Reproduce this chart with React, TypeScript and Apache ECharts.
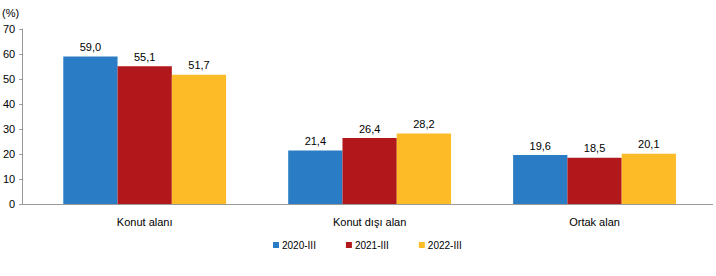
import React, { useEffect, useRef } from "react";
import * as echarts from "echarts";

const categories = ["Konut alanı", "Konut dışı alan", "Ortak alan"];
const seriesNames = ["2020-III", "2021-III", "2022-III"];
const values2020 = [59.0, 21.4, 19.6];
const values2021 = [55.1, 26.4, 18.5];
const values2022 = [51.7, 28.2, 20.1];
const colors = ["#2A7DC5", "#B0181B", "#FDBB28"];
const yTicks = [0, 10, 20, 30, 40, 50, 60, 70];

const FONT = "Arial, 'Liberation Sans', sans-serif";

export default function App() {
  const ref = useRef<HTMLDivElement>(null);
  useEffect(() => {
    if (!ref.current) return;
    const chart = echarts.init(ref.current, undefined, { renderer: "svg" });
    const data = [values2020, values2021, values2022];
    chart.setOption({
      animation: false,
      grid: { left: 32, right: 9, top: 29, bottom: 72 },
      textStyle: { fontFamily: FONT },
      xAxis: {
        type: "category",
        data: categories,
        axisLine: { show: false },
        axisTick: { show: false },
        axisLabel: { color: "#000", fontSize: 11, margin: 12, fontFamily: FONT },
      },
      yAxis: {
        type: "value",
        min: yTicks[0],
        max: yTicks[yTicks.length - 1],
        interval: 10,
        offset: 10,
        splitLine: { show: false },
        axisLine: { show: true, lineStyle: { color: "#999", width: 1 } },
        axisTick: { show: true, length: 3, lineStyle: { color: "#999" } },
        axisLabel: { color: "#000", fontSize: 11, margin: 7, fontFamily: FONT },
      },
      legend: {
        bottom: 21,
        left: 268,
        itemWidth: 6,
        itemHeight: 6,
        itemGap: 30,
        icon: "rect",
        textStyle: { color: "#000", fontSize: 10, fontFamily: FONT, padding: [0, 0, 0, -2] },
        data: seriesNames,
      },
      graphic: [
        {
          type: "text",
          left: 2,
          top: 7,
          style: { text: "(%)", fontSize: 11, fill: "#000", fontFamily: FONT },
        },
        {
          type: "line",
          shape: { x1: 20, y1: 204.5, x2: 713, y2: 204.5 },
          style: { stroke: "#999", lineWidth: 1 },
          z: 10,
        },
      ],
      series: seriesNames.map((name, i) => ({
        name,
        type: "bar",
        data: data[i],
        barGap: "0%",
        barCategoryGap: "27.6%",
        itemStyle: { color: colors[i] },
        label: {
          show: true,
          position: "top",
          distance: 4,
          color: "#000",
          fontSize: 11,
          fontFamily: FONT,
          formatter: (p: any) => p.value.toFixed(1).replace(".", ","),
        },
      })),
    });
    return () => chart.dispose();
  }, []);
  return <div ref={ref} style={{ width: 716, height: 276, position: "absolute", left: 0, top: 0 }} />;
}
